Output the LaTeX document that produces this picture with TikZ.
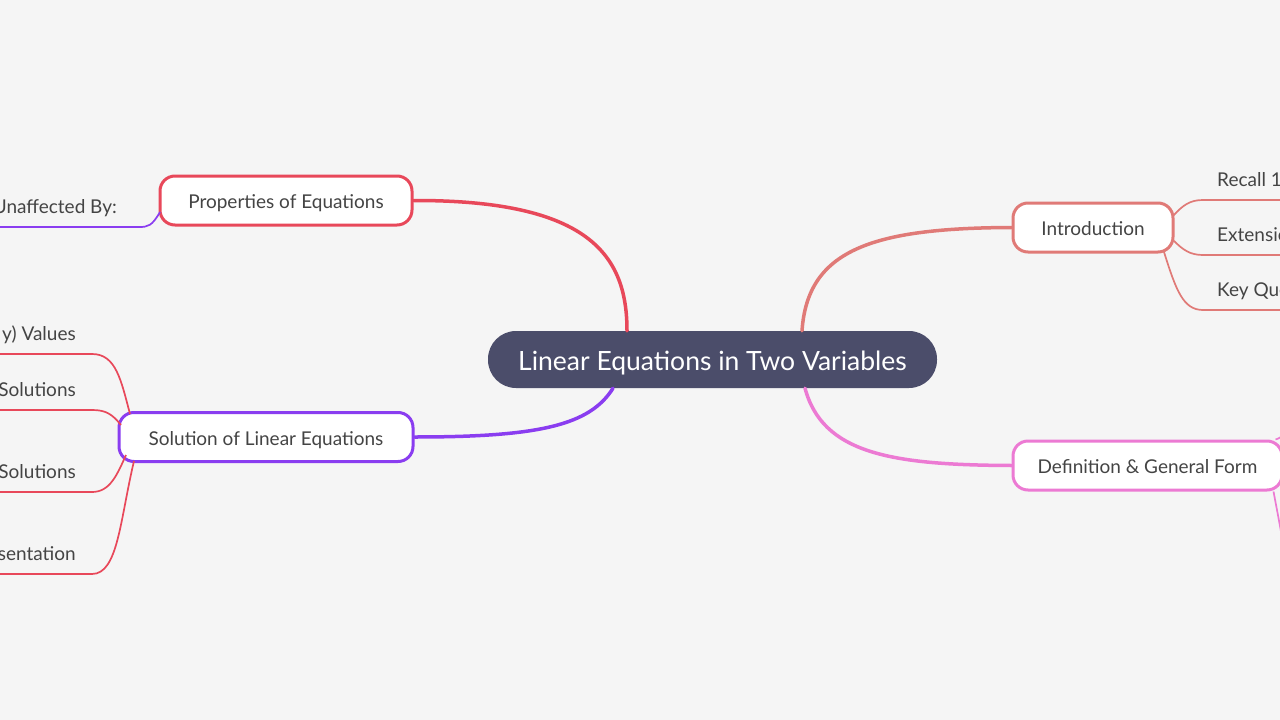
\documentclass[tikz,border=0pt]{standalone}
\usepackage{fontspec}
\setmainfont{Lato}
\definecolor{bg}{HTML}{F5F5F5}
\definecolor{cRoot}{HTML}{4B4D6A}
\definecolor{cProp}{HTML}{E8485A}
\definecolor{cSol}{HTML}{8A3DF0}
\definecolor{cIntro}{HTML}{E07A77}
\definecolor{cDef}{HTML}{EC7AD3}
\definecolor{cText}{HTML}{444444}
\begin{document}
\begin{tikzpicture}[x=1pt,y=-1pt,
  root/.style={fill=cRoot, text=white, rounded corners=28pt, minimum width=449pt, minimum height=57pt, inner sep=0pt, text height=24pt, text depth=1.5pt, font=\fontsize{26.5}{30}\selectfont},
  topic/.style={fill=white, line width=3pt, rounded corners=15pt, minimum height=49pt, inner sep=0pt, text height=17pt, text depth=1pt, text=cText, font=\fontsize{19}{23}\selectfont},
  branch/.style={line width=3.5pt, line cap=round},
  twig/.style={line width=1.7pt},
  leafR/.style={anchor=south west, inner xsep=14pt, inner ysep=8pt, text height=14pt, text depth=5pt, text=cText, font=\fontsize{19}{23}\selectfont},
  leafL/.style={anchor=south east, inner xsep=16pt, inner ysep=8pt, text height=14pt, text depth=5pt, text=cText, font=\fontsize{19}{23}\selectfont}
]
\useasboundingbox (0,0) rectangle (1280,720);
\fill[bg] (0,0) rectangle (1280,720);
\begin{scope}
\clip (0,0) rectangle (1280,720);

% main nodes
\node[root] (c) at (712.5,359.5) {Linear Equations in Two Variables};
\node[topic, draw=cProp, minimum width=252pt] (prop) at (286,200.5) {Properties of Equations};
\node[topic, draw=cSol, minimum width=294pt] (sol) at (266,437) {Solution of Linear Equations};
\node[topic, draw=cIntro, minimum width=160pt] (intro) at (1093,227.5) {Introduction};
\node[topic, draw=cDef, minimum width=269pt] (def) at (1147.5,465.5) {Definition \& General Form};

% main branches
\draw[branch, draw=cProp] ([xshift=-85.5pt]c.north) .. controls ([xshift=-85.5pt,yshift=75pt]c.north) and (590,200) .. (prop.east);
\draw[branch, draw=cSol] ([xshift=-99.5pt]c.south) .. controls (590,425) and (540,437) .. (sol.east);
\draw[branch, draw=cIntro] ([xshift=89.5pt]c.north) .. controls ([xshift=95pt,yshift=80pt]c.north) and (870,228) .. (intro.west);
\draw[branch, draw=cDef] ([xshift=92.5pt]c.south) .. controls ([xshift=110pt,yshift=-65pt]c.south) and (890,465) .. (def.west);

% Properties child
\node[leafL, inner xsep=22pt] (pu) at (139,227) {Unaffected By:};
\draw[twig, draw=cSol] ([xshift=-126pt,yshift=-11.5pt]prop.center) .. controls (152,226) and (148,227) .. (pu.south east) -- (pu.south west);

% Solution children
\node[leafL] (s1) at (92,354) {y) Values};
\node[leafL] (s2) at (92,410) {Solutions};
\node[leafL] (s3) at (92,492) {Solutions};
\node[leafL] (s4) at (92,574) {sentation};
\coordinate (sa) at (130,414);
\coordinate (sb) at (121,425);
\coordinate (sc) at (126,455);
\coordinate (sd) at (134,461);
\draw[twig, draw=cProp] (sa) .. controls (121,380) and (116,354) .. (s1.south east) -- (s1.south west);
\draw[twig, draw=cProp] (sb) .. controls (112,414) and (106,410) .. (s2.south east) -- (s2.south west);
\draw[twig, draw=cProp] (sc) .. controls (117,475) and (110,492) .. (s3.south east) -- (s3.south west);
\draw[twig, draw=cProp] (sd) .. controls (120,520) and (118,574) .. (s4.south east) -- (s4.south west);

% Introduction children
\node[leafR] (i1) at (1203,200) {Recall 1};
\node[leafR] (i2) at (1203,255) {Extensio};
\node[leafR] (i3) at (1203,310) {Key Que};
\coordinate (ia) at (1173,216);
\coordinate (ib) at (1173,240);
\coordinate (ic) at (1164,252);
\draw[twig, draw=cIntro] (ia) .. controls (1183,205) and (1190,200) .. (i1.south west) -- ++(90,0);
\draw[twig, draw=cIntro] (ib) .. controls (1183,250) and (1190,255) .. (i2.south west) -- ++(90,0);
\draw[twig, draw=cIntro] (ic) .. controls (1176,290) and (1183,310) .. (i3.south west) -- ++(90,0);

% Definition children (leaves outside the frame)
\coordinate (da) at (1300,425);
\coordinate (db) at (1286,560);
\draw[twig, draw=cDef] ([xshift=-8pt]def.north east) .. controls (1282,438) and (1288,430) .. (da);
\draw[twig, draw=cDef] ([xshift=-10pt]def.south east) .. controls (1276,505) and (1280,525) .. (db);
\end{scope}
\end{tikzpicture}
\end{document}
